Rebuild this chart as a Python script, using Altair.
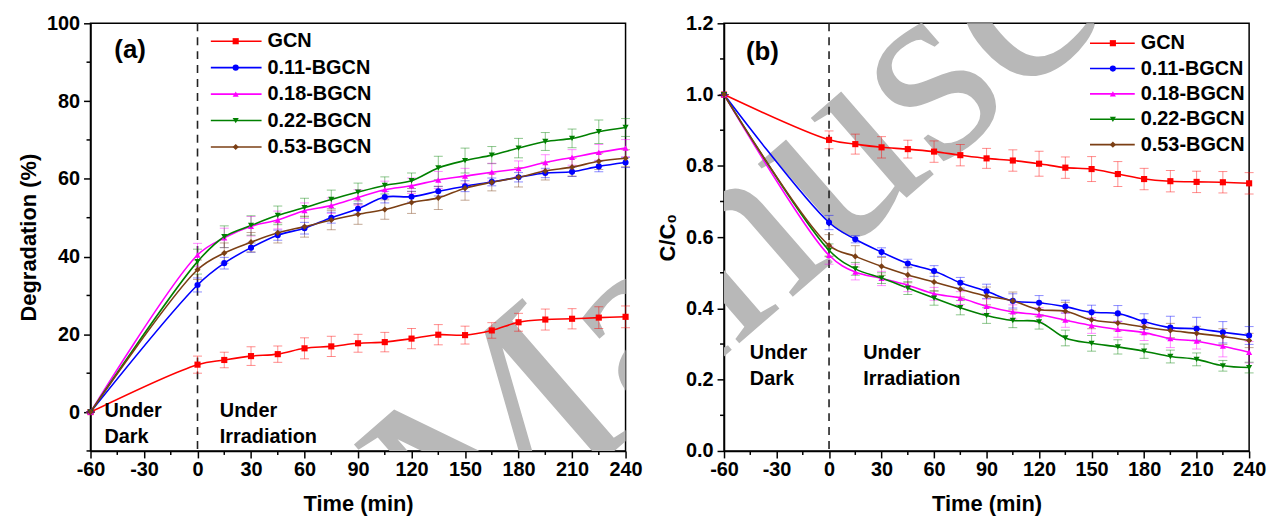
import altair as alt
import pandas as pd

times = [-60, 0, 15, 30, 45, 60, 75, 90, 105, 120, 135, 150, 165, 180, 195, 210, 225, 240]
series = ["GCN", "0.11-BGCN", "0.18-BGCN", "0.22-BGCN", "0.53-BGCN"]
colors = ["#FF0000", "#0000FF", "#FF00FF", "#008000", "#7B3F14"]
shapes = ["square", "circle", "triangle-up", "triangle-down", "diamond"]
watermark = "Manuscript"

# Panel (a): Degradation (%)
deg_gcn = [0, 12.2, 13.4, 14.4, 14.9, 16.4, 16.9, 17.7, 18.0, 18.9, 19.9, 19.8, 21.0, 23.1, 23.8, 24.0, 24.3, 24.5]
deg_011 = [0, 32.7, 38.3, 42.3, 45.5, 47.3, 50.0, 52.3, 55.3, 55.4, 56.8, 58.1, 59.2, 60.4, 61.5, 61.8, 63.2, 64.2]
deg_018 = [0, 40.4, 44.8, 47.8, 49.4, 51.8, 53.1, 55.2, 57.2, 58.2, 59.7, 60.7, 61.7, 62.6, 64.2, 65.5, 66.8, 67.9]
deg_022 = [0, 38.7, 45.1, 48.0, 50.6, 52.6, 54.7, 56.6, 58.3, 59.5, 62.8, 64.7, 66.1, 67.9, 69.6, 70.4, 72.1, 73.2]
deg_053 = [0, 36.6, 40.9, 43.7, 46.1, 47.7, 49.4, 50.9, 52.1, 53.9, 55.1, 57.6, 59.1, 60.4, 62.0, 63.0, 64.5, 65.3]
err_gcn = [0, 2.2, 2.0, 2.4, 2.1, 2.7, 2.6, 2.3, 2.5, 2.6, 2.6, 2.3, 2.0, 2.3, 2.7, 2.6, 2.8, 2.8]
err_011 = [0, 1.8, 1.5, 1.2, 1.3, 1.5, 1.4, 1.3, 1.5, 1.4, 1.2, 1.4, 1.0, 1.2, 1.2, 1.2, 1.4, 1.3]
err_018 = [0, 3.0, 2.5, 2.5, 2.3, 2.0, 2.0, 2.0, 2.2, 2.0, 2.2, 2.0, 2.3, 2.0, 2.0, 2.0, 2.0, 2.2]
err_022 = [0, 3.2, 2.8, 2.5, 2.4, 2.4, 2.4, 2.3, 2.2, 2.0, 3.0, 3.2, 2.2, 2.5, 2.3, 2.4, 3.0, 2.3]
err_053 = [0, 2.5, 2.6, 2.5, 2.6, 2.7, 2.5, 2.6, 2.5, 2.8, 3.0, 3.1, 2.2, 2.5, 2.3, 2.3, 2.1, 2.2]

# Panel (b): C/C0
cc_gcn = [1.0, 0.873, 0.861, 0.852, 0.847, 0.840, 0.830, 0.821, 0.815, 0.806, 0.795, 0.791, 0.777, 0.763, 0.757, 0.755, 0.754, 0.751]
cc_011 = [1.0, 0.641, 0.594, 0.558, 0.526, 0.505, 0.472, 0.448, 0.421, 0.416, 0.405, 0.389, 0.386, 0.363, 0.346, 0.343, 0.333, 0.324]
cc_018 = [1.0, 0.549, 0.502, 0.484, 0.465, 0.441, 0.429, 0.406, 0.390, 0.382, 0.367, 0.352, 0.341, 0.332, 0.315, 0.308, 0.294, 0.277]
cc_022 = [1.0, 0.563, 0.511, 0.485, 0.457, 0.429, 0.402, 0.380, 0.366, 0.362, 0.317, 0.302, 0.292, 0.280, 0.265, 0.257, 0.239, 0.234]
cc_053 = [1.0, 0.577, 0.546, 0.518, 0.494, 0.474, 0.454, 0.435, 0.421, 0.397, 0.392, 0.368, 0.359, 0.348, 0.338, 0.330, 0.321, 0.310]
ecc_gcn = [0, 0.025, 0.028, 0.030, 0.025, 0.030, 0.030, 0.028, 0.030, 0.035, 0.030, 0.035, 0.035, 0.030, 0.030, 0.030, 0.030, 0.030]
ecc_011 = [0, 0.020, 0.010, 0.012, 0.012, 0.015, 0.015, 0.020, 0.020, 0.020, 0.018, 0.020, 0.022, 0.022, 0.032, 0.032, 0.030, 0.025]
ecc_018 = [0, 0.025, 0.022, 0.020, 0.018, 0.018, 0.018, 0.020, 0.020, 0.020, 0.020, 0.022, 0.022, 0.022, 0.025, 0.022, 0.030, 0.030]
ecc_022 = [0, 0.018, 0.018, 0.015, 0.018, 0.020, 0.020, 0.022, 0.020, 0.020, 0.022, 0.022, 0.020, 0.020, 0.018, 0.018, 0.015, 0.015]
ecc_053 = [0, 0.030, 0.030, 0.025, 0.022, 0.025, 0.022, 0.025, 0.025, 0.020, 0.025, 0.025, 0.022, 0.020, 0.020, 0.020, 0.022, 0.020]

x_ticks = [-60, -30, 0, 30, 60, 90, 120, 150, 180, 210, 240]
x_minor = [-45, -15, 15, 45, 75, 105, 135, 165, 195, 225]
ya_ticks = [0, 20, 40, 60, 80, 100]
ya_minor = [-10, 10, 30, 50, 70, 90]
yb_ticks = [0.0, 0.2, 0.4, 0.6, 0.8, 1.0, 1.2]
yb_minor = [0.1, 0.3, 0.5, 0.7, 0.9, 1.1]

FONT = "Liberation Sans"


def long_df(vals, errs):
    rows = []
    for s, vs, es in zip(series, vals, errs):
        for t, v, e in zip(times, vs, es):
            rows.append({"series": s, "t": t, "v": v, "lo": v - e, "hi": v + e})
    return pd.DataFrame(rows)


def axis(values, title, fmt_expr, lpad, tpad):
    return alt.Axis(values=values, title=title, grid=False, labelExpr=fmt_expr,
                    labelFont=FONT, labelFontSize=20, labelFontWeight="bold", labelColor="black",
                    titleFont=FONT, titleFontSize=22, titleFontWeight="bold", titleColor="black",
                    tickColor="black", tickSize=7, tickWidth=1.5, domainColor="black", domainWidth=1.5,
                    labelPadding=lpad, titlePadding=tpad, labelFlush=False, labelOverlap=False)


def panel(vals, errs, ydom, ytitle, yticks, yminor, yexpr, W, H, tag, leg, under, cap, wm):
    df = long_df(vals, errs)
    xs = alt.Scale(domain=[-60, 240], nice=False, zero=False)
    ys = alt.Scale(domain=ydom, nice=False, zero=False)
    cscale = alt.Scale(domain=series, range=colors)
    shscale = alt.Scale(domain=series, range=shapes)
    xax = axis(x_ticks, "Time (min)", "replace(datum.label, '\u2212', '-')", 2, 14)
    yax = axis(yticks, ytitle, yexpr, 4, 6)
    base = alt.Chart(df)
    x = alt.X("t:Q", scale=xs, axis=xax)
    y = alt.Y("v:Q", scale=ys, axis=yax)
    col = alt.Color("series:N", scale=cscale, legend=None)
    one = pd.DataFrame({"k": [0]})

    wmark = alt.Chart(one).mark_text(text=watermark, font="Liberation Serif", fontSize=270,
                                     angle=319, align="left", baseline="alphabetic",
                                     color="#B8B8B8", clip=True).encode(
        x=alt.value(wm[0]), y=alt.value(wm[1]))
    err_rule = base.mark_rule(strokeWidth=1, opacity=0.45).encode(
        x=alt.X("t:Q", scale=xs), y=alt.Y("lo:Q", scale=ys), y2="hi:Q", color=col)
    cap_lo = base.mark_tick(orient="horizontal", size=9, thickness=1, opacity=0.45).encode(
        x=alt.X("t:Q", scale=xs), y=alt.Y("lo:Q", scale=ys), color=col)
    cap_hi = base.mark_tick(orient="horizontal", size=9, thickness=1, opacity=0.45).encode(
        x=alt.X("t:Q", scale=xs), y=alt.Y("hi:Q", scale=ys), color=col)
    lines = base.mark_line(interpolate="catmull-rom", strokeWidth=1.6).encode(
        x=x, y=y, color=col, detail="series:N")
    pts = base.mark_point(filled=True, size=38, opacity=1).encode(
        x=alt.X("t:Q", scale=xs), y=alt.Y("v:Q", scale=ys), color=col,
        shape=alt.Shape("series:N", scale=shscale, legend=None))
    dash = alt.Chart(pd.DataFrame({"t": [0]})).mark_rule(
        color="#222222", strokeWidth=1.6, strokeDash=[8, 6]).encode(x=alt.X("t:Q", scale=xs))
    xmin = alt.Chart(pd.DataFrame({"m": x_minor})).mark_rule(color="black", strokeWidth=1.5).encode(
        x=alt.X("m:Q", scale=xs), y=alt.value(H), y2=alt.value(H + 4))
    ymin = alt.Chart(pd.DataFrame({"m": yminor})).mark_rule(color="black", strokeWidth=1.5).encode(
        y=alt.Y("m:Q", scale=ys), x=alt.value(0), x2=alt.value(-4))

    layers = [wmark, xmin, ymin, dash, err_rule, cap_lo, cap_hi, lines, pts]

    layers.append(alt.Chart(one).mark_text(text=tag, font=FONT, fontSize=26, fontWeight="bold",
                                           align="left", baseline="middle", color="black").encode(
        x=alt.value(cap[0]), y=alt.value(cap[1])))
    for (ux, uy, l1, l2) in under:
        layers.append(alt.Chart(one).mark_text(text=l1, font=FONT, fontSize=20, fontWeight="bold",
                                               align="left", baseline="middle", color="black").encode(
            x=alt.value(ux), y=alt.value(uy)))
        layers.append(alt.Chart(one).mark_text(text=l2, font=FONT, fontSize=20, fontWeight="bold",
                                               align="left", baseline="middle", color="black").encode(
            x=alt.value(ux), y=alt.value(uy + 26)))
    lx0, lx1, lxm, ltx, ly0, dy = leg
    for i, s in enumerate(series):
        yy = ly0 + i * dy
        layers.append(alt.Chart(one).mark_rule(color=colors[i], strokeWidth=1.6).encode(
            x=alt.value(lx0), x2=alt.value(lx1), y=alt.value(yy)))
        layers.append(alt.Chart(one).mark_point(filled=True, size=38, color=colors[i], opacity=1,
                                                shape=shapes[i]).encode(
            x=alt.value(lxm), y=alt.value(yy)))
        layers.append(alt.Chart(one).mark_text(text=s, font=FONT, fontSize=20, fontWeight="bold",
                                               align="left", baseline="middle", color="black").encode(
            x=alt.value(ltx), y=alt.value(yy)))
    return alt.layer(*layers).properties(width=W, height=H)


pa = panel([deg_gcn, deg_011, deg_018, deg_022, deg_053],
           [err_gcn, err_011, err_018, err_022, err_053],
           [-10, 100], "Degradation (%)", ya_ticks, ya_minor,
           "replace(datum.label, '\u2212', '-')", 538, 430, "(a)",
           (121, 172, 146, 178, 18, 26.6),
           [(14, 390, "Under", "Dark"), (130, 390, "Under", "Irradiation")],
           (24, 27), (375, 562))
pb = panel([cc_gcn, cc_011, cc_018, cc_022, cc_053],
           [ecc_gcn, ecc_011, ecc_018, ecc_022, ecc_053],
           [0, 1.2], "C/C\u2080", yb_ticks, yb_minor,
           "format(datum.value, '.1f')", 528, 430, "(b)",
           (368, 413, 391, 419, 20, 25.5),
           [(26, 332, "Under", "Dark"), (140, 332, "Under", "Irradiation")],
           (22, 29), (-261, 562))

chart = alt.hconcat(pa, pb, spacing=12).configure_view(stroke="black", strokeWidth=1.5).properties(
    background="white", padding={"left": 16, "top": 11, "right": 5, "bottom": 5})

chart.save("out.html", embed_options={"renderer": "svg", "actions": False})
